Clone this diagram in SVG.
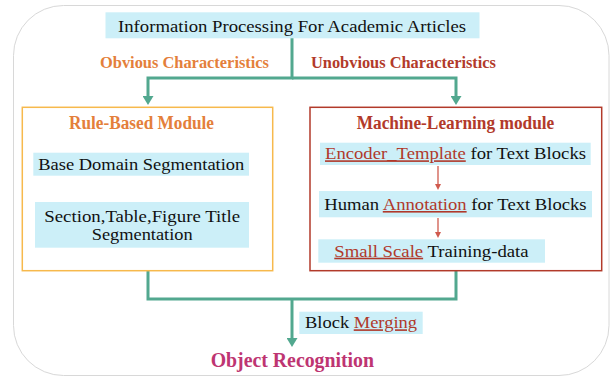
<svg xmlns="http://www.w3.org/2000/svg" width="616" height="377" viewBox="0 0 616 377">
<style>
.t{font-family:"Liberation Serif","Times New Roman",serif;font-size:16px;fill:#111}
.b{font-family:"Liberation Serif","Times New Roman",serif;font-weight:bold}
.hl{fill:#CCEFF8}
.u{fill:#B0392B;text-decoration:underline}
.tl{fill:none;stroke:#52A88F;stroke-width:3}
.rl{fill:none;stroke:#D05A4E;stroke-width:1.3}
</style>
<defs>
<marker id="ta" markerUnits="userSpaceOnUse" markerWidth="10" markerHeight="11" refX="0" refY="5.5" orient="auto">
<path d="M0,0 L9,5.5 L0,11 Z" fill="#52A88F"/>
</marker>
<marker id="ra" markerUnits="userSpaceOnUse" markerWidth="7" markerHeight="7" refX="0" refY="3" orient="auto">
<path d="M0,0 L6,3 L0,6 Z" fill="#D05A4E"/>
</marker>
</defs>
<rect x="13.5" y="5.5" width="595.5" height="370" rx="50" ry="50" fill="#fff" stroke="#D8D8D8" stroke-width="1"/>

<g id="connectors">
<path class="tl" d="M292,38 V78 H148 V96" marker-end="url(#ta)"/>
<path class="tl" d="M292,78 H456 V96" marker-end="url(#ta)"/>
<path class="tl" d="M148,271 V299 H456 V271"/>
<path class="tl" d="M292,299 V338" marker-end="url(#ta)"/>
<path class="rl" d="M438,166 V184" marker-end="url(#ra)"/>
<path class="rl" d="M438,218 V232" marker-end="url(#ra)"/>
<text class="b" x="100" y="67.5" font-size="16" fill="#E47F3B" textLength="169" lengthAdjust="spacingAndGlyphs">Obvious Characteristics</text>
<text class="b" x="311" y="67.5" font-size="16" fill="#B23A2A" textLength="185" lengthAdjust="spacingAndGlyphs">Unobvious Characteristics</text>
</g>

<g id="top">
<rect class="hl" x="105.5" y="12.3" width="374" height="26"/>
<text class="t" x="118" y="31.7" font-size="17" textLength="348" lengthAdjust="spacingAndGlyphs">Information Processing For Academic Articles</text>
</g>

<g id="rule-based">
<rect x="22.3" y="107.3" width="250.4" height="163.4" fill="none" stroke="#F7B94C" stroke-width="1.5"/>
<text class="b" x="69" y="129.3" font-size="18" fill="#E47F3B" textLength="145" lengthAdjust="spacingAndGlyphs">Rule-Based Module</text>
</g>

<g id="base-domain">
<rect class="hl" x="33.3" y="152.7" width="215.7" height="23"/>
<text class="t" x="38.3" y="170" textLength="206" lengthAdjust="spacingAndGlyphs">Base Domain Segmentation</text>
</g>

<g id="section-title">
<rect class="hl" x="35" y="202" width="214" height="45.7"/>
<text class="t" x="44.3" y="221.7" textLength="195.7" lengthAdjust="spacingAndGlyphs">Section,Table,Figure Title</text>
<text class="t" x="91.7" y="240" textLength="101" lengthAdjust="spacingAndGlyphs">Segmentation</text>
</g>

<g id="machine-learning">
<rect x="310" y="107.3" width="291.7" height="163.4" fill="none" stroke="#B23A2A" stroke-width="1.5"/>
<text class="b" x="356.7" y="129.3" font-size="18" fill="#B23A2A" textLength="197.6" lengthAdjust="spacingAndGlyphs">Machine-Learning module</text>
</g>

<g id="encoder">
<rect class="hl" x="320" y="142.7" width="270.7" height="22.3"/>
<text class="t" x="325" y="159.3" textLength="261" lengthAdjust="spacingAndGlyphs"><tspan class="u">Encoder_Template</tspan> for Text Blocks</text>
</g>

<g id="annotation">
<rect class="hl" x="319" y="191" width="273" height="26.3"/>
<text class="t" x="324.3" y="210" textLength="262.3" lengthAdjust="spacingAndGlyphs">Human <tspan class="u">Annotation</tspan> for Text Blocks</text>
</g>

<g id="training">
<rect class="hl" x="318.3" y="239.3" width="226.7" height="23.4"/>
<text class="t" x="334.3" y="256.7" textLength="194.3" lengthAdjust="spacingAndGlyphs"><tspan class="u">Small Scale</tspan> Training-data</text>
</g>

<g id="block-merging">
<rect class="hl" x="299.3" y="311.7" width="123.4" height="22.3"/>
<text class="t" x="305" y="328.3" textLength="112" lengthAdjust="spacingAndGlyphs">Block <tspan class="u">Merging</tspan></text>
</g>

<g id="object-recognition">
<text class="b" x="210.7" y="367" font-size="20" fill="#BE3572" textLength="163.3" lengthAdjust="spacingAndGlyphs">Object Recognition</text>
</g>
</svg>
